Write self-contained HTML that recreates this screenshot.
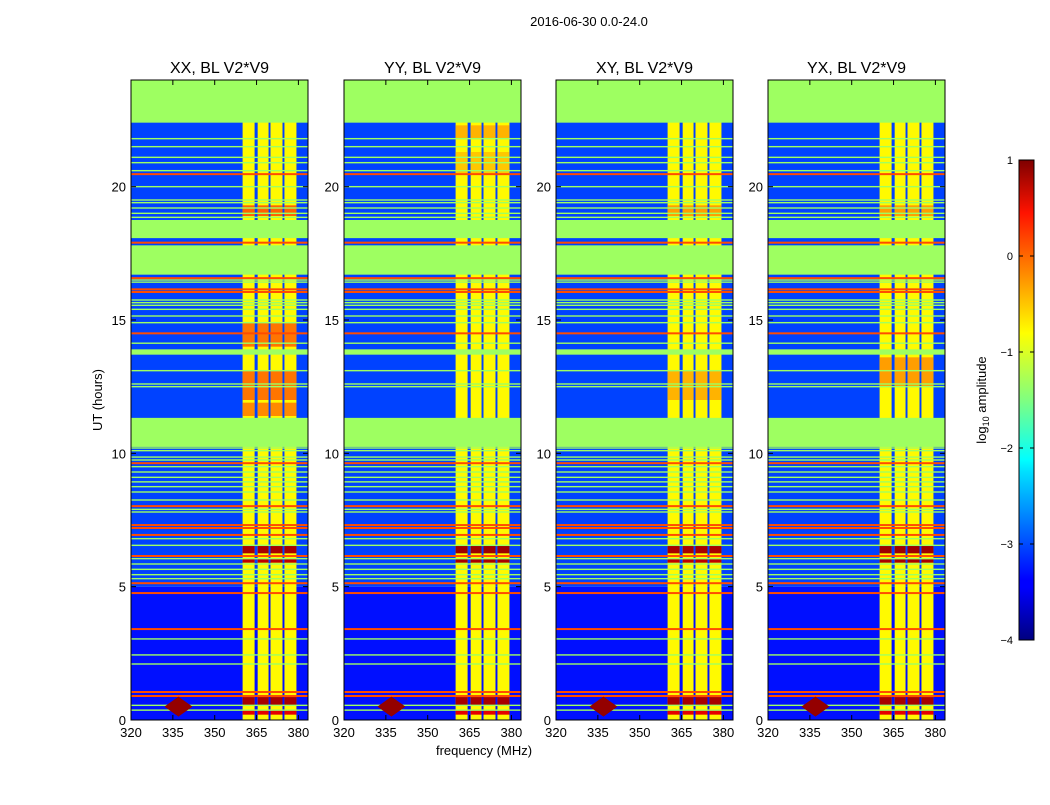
<!DOCTYPE html>
<html><head><meta charset="utf-8"><style>
body{margin:0;background:#fff;font-family:"Liberation Sans",sans-serif}
svg text{font-family:"Liberation Sans",sans-serif;fill:#000}
</style></head><body>
<svg id="c" width="1050" height="800" viewBox="0 0 1050 800">
<defs>
<linearGradient id="jetg" x1="0" y1="1" x2="0" y2="0">
<stop offset="0" stop-color="#00007f"/><stop offset="0.11" stop-color="#0000ff"/><stop offset="0.125" stop-color="#0000ff"/>
<stop offset="0.35" stop-color="#00dfff"/><stop offset="0.375" stop-color="#00ffff"/><stop offset="0.5" stop-color="#80ff80"/>
<stop offset="0.64" stop-color="#ffff00"/><stop offset="0.89" stop-color="#ff1300"/><stop offset="1" stop-color="#7f0000"/>
</linearGradient>
</defs>
<text x="589" y="26" font-size="13" text-anchor="middle">2016-06-30 0.0-24.0</text>
</svg>
<script>
const panelTitles=["XX, BL V2*V9","YY, BL V2*V9","XY, BL V2*V9","YX, BL V2*V9"];
const xTicks=[320,335,350,365,380];
const yTicks=[0,5,10,15,20];
const cbTicks=[1,0,-1,-2,-3,-4];
const flagRanges=[[22.4,24],[18.07,18.75],[16.7,17.8],[13.7,13.9],[10.24,11.33]];
const chanBlocks=[[360,364.3],[365.4,369.3],[370,374.3],[375,379.3]];
const chanValue=-0.85;
const bgBands=[[0,5,-3.3],[5,24,-3.05]];
const lineTimes=[21.8,21.5,21.1,20.9,20.6,20.0,19.5,19.4,19.2,19.0,18.85,16.5,16.42,15.75,15.65,15.55,15.4,15.15,14.9,14.13,13.1,12.6,12.5,10.2,10.1,9.86,9.75,9.5,9.3,9.1,8.93,8.75,8.55,8.25,7.9,7.8,7.2,6.8,6.55,6.05,5.85,5.65,5.45,5.3,3.04,2.44,2.1,0.55,0.37];
const orangeTimes=[20.47,17.9,16.57,16.05,16.15,14.5,9.63,8.02,7.31,7.2,6.94,6.15,5.13,4.76,3.41,1.05,0.9];
const hotXX=[[18.9,19.3,-0.1],[14.0,14.9,-0.2],[12.0,13.1,-0.2],[11.4,11.9,-0.3],[6.25,6.56,0.8],[5.9,6.07,0.7],[0.56,0.86,0.8],[0.2,0.37,0.5]];
const hotYY=[[21.8,22.3,-0.5],[20.5,21.3,-0.6],[6.25,6.56,0.85],[5.9,6.07,0.8],[0.56,0.86,0.8],[0.2,0.37,0.5]];
const hotXY=[[18.9,19.3,-0.4],[12.0,13.1,-0.5],[6.25,6.56,0.8],[5.9,6.07,0.7],[0.56,0.86,0.8],[0.2,0.37,0.5]];
const hotYX=[[18.9,19.3,-0.4],[12.5,13.6,-0.4],[6.25,6.56,0.85],[5.9,6.07,0.8],[0.56,0.86,0.8],[0.2,0.37,0.5]];
const hotSets=[hotXX,hotYY,hotXY,hotYX];
const blob=[337,0.5,0.9];

const NS="http://www.w3.org/2000/svg";
const svg=document.getElementById('c');
const panelX=[131,344,556,768], PW=177, PT=80, PB=720;
function jet(v){const t=Math.max(0,Math.min(1,(v+4)/5));
 const f=a=>Math.round(255*Math.max(0,Math.min(1,1.5-Math.abs(4*t-a))));
 return `rgb(${f(3)},${f(2)},${f(1)})`;}
function mk(tag,attrs,parent){const e=document.createElementNS(NS,tag);for(const k in attrs)e.setAttribute(k,attrs[k]);(parent||svg).appendChild(e);return e;}
const flagV=-1.35;
panelTitles.forEach((title,p)=>{
 const x0=panelX[p];
 const xs=f=>x0+(f-320)*2.79;
 const ys=h=>PB-h*(PB-PT)/24;
 const g=mk('g',{});
 
 
 const cp=mk('clipPath',{id:'cp'+p},g);mk('rect',{x:x0,y:PT,width:PW,height:PB-PT},cp);
 const hm=mk('g',{'clip-path':'url(#cp'+p+')'},g);
 
 
 bgBands.forEach(b=>{const r=mk('rect',{x:x0,y:ys(b[1]),width:PW,height:ys(b[0])-ys(b[1]),fill:jet(b[2])},hm);
  });
 chanBlocks.forEach(c=>{const r=mk('rect',{x:xs(c[0]),y:PT,width:xs(c[1])-xs(c[0]),height:PB-PT,fill:jet(chanValue)},hm);
  });
 hotSets[p].forEach(h=>chanBlocks.forEach(c=>{const r=mk('rect',{x:xs(c[0]),y:ys(h[1]),width:xs(c[1])-xs(c[0]),height:ys(h[0])-ys(h[1]),fill:jet(h[2])},hm);
  }));
 lineTimes.forEach(t=>{const r=mk('rect',{x:x0,y:ys(t)-0.7,width:PW,height:1.4,fill:jet(flagV)},hm);
  });
 orangeTimes.forEach(t=>{const r=mk('rect',{x:x0,y:ys(t)-1,width:PW,height:2,fill:jet(0)},hm);
  });
 flagRanges.forEach(f=>{const r=mk('rect',{x:x0,y:ys(f[1]),width:PW,height:ys(f[0])-ys(f[1]),fill:jet(flagV)},hm);
  });
 const bl=mk('path',{d:`M${xs(blob[0])-14},${ys(blob[1])} L${xs(blob[0])},${ys(blob[1])-10} L${xs(blob[0])+14},${ys(blob[1])} L${xs(blob[0])},${ys(blob[1])+10}Z`,fill:jet(blob[2])},hm);
 
 mk('rect',{x:x0,y:PT,width:PW,height:PB-PT,fill:'none',stroke:'#000','stroke-width':1},g);
 const tt=mk('text',{x:x0+PW/2,y:73,'font-size':16,'text-anchor':'middle'},g);tt.textContent=title;
 
 xTicks.forEach(v=>{const x=xs(v);
  mk('line',{x1:x,x2:x,y1:PB,y2:PB-5,stroke:'#000'},g);mk('line',{x1:x,x2:x,y1:PT,y2:PT+5,stroke:'#000'},g);
  const t=mk('text',{x:x,y:PB+17,'font-size':13,'text-anchor':'middle'},g);t.textContent=v;
  });
 yTicks.forEach(v=>{const y=ys(v);
  mk('line',{x1:x0,x2:x0+5,y1:y,y2:y,stroke:'#000'},g);mk('line',{x1:x0+PW,x2:x0+PW-5,y1:y,y2:y,stroke:'#000'},g);
  const t=mk('text',{x:x0-5,y:y+5,'font-size':13,'text-anchor':'end'},g);t.textContent=v;
  });
});
const yl=mk('text',{x:102,y:400,'font-size':13,'text-anchor':'middle',transform:'rotate(-90 102 400)'});yl.textContent='UT (hours)';

const xl=mk('text',{x:484,y:755,'font-size':13,'text-anchor':'middle'});xl.textContent='frequency (MHz)';

const cb=mk('rect',{x:1019,y:160,width:15,height:480,fill:'url(#jetg)',stroke:'#000'});

cbTicks.forEach(v=>{const y=160+(1-v)*96;
 mk('line',{x1:1019,x2:1023,y1:y,y2:y,stroke:'#000'});mk('line',{x1:1034,x2:1030,y1:y,y2:y,stroke:'#000'});
 const t=mk('text',{x:1013,y:y+4,'font-size':11,'text-anchor':'end'});t.textContent=v<0?'\u2212'+(-v):v;
 });
const cl=mk('text',{x:986,y:400,'font-size':13,'text-anchor':'middle',transform:'rotate(-90 986 400)'});
cl.innerHTML='log<tspan font-size="9" dy="3">10</tspan><tspan dy="-3"> amplitude</tspan>';

</script>
</body></html>
